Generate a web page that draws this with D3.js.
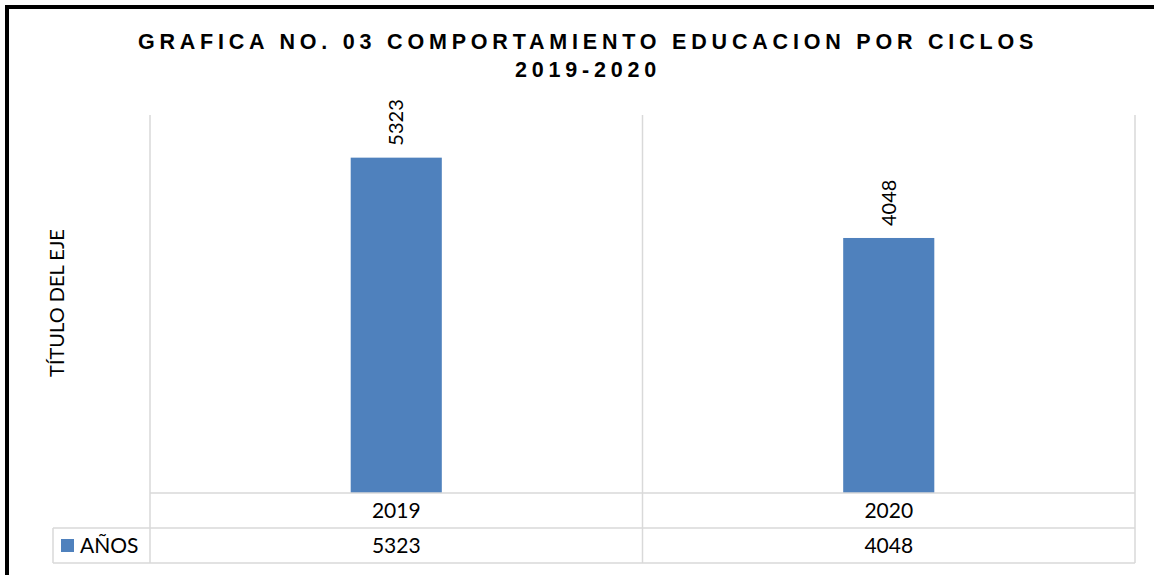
<!DOCTYPE html>
<html lang="es">
<head>
  <meta charset="UTF-8">
  <script src="https://d3js.org/d3.v7.min.js"></script>
  <title>grafica 03</title>
  <style>
    body { margin: 0; background: #fff; }
  </style>
</head>
<body>
</body>
<script>
  // datos
  let categories = ['2019', '2020']
  let values = [5323, 4048]
  let seriesName = 'AÑOS'
  let titleLines = ['GRAFICA NO. 03 COMPORTAMIENTO EDUCACION POR CICLOS', '2019-2020']
  let yTitle = 'TÍTULO DEL EJE'

  let width = 1154
  let height = 575
  let color = '#4f81bd'
  let gridColor = '#d9d9d9'
  let font = 'Lato, "Open Sans", sans-serif'

  let svg = d3.select('body')
    .append('svg')
    .attr('width', width)
    .attr('height', height)

  // borde negro (solo izquierda y arriba visibles)
  svg.append('path')
    .attr('d', 'M7,575 V7 H1154')
    .attr('fill', 'none')
    .attr('stroke', '#000')
    .attr('stroke-width', 4)

  // titulo
  svg.selectAll('text.title')
    .data(titleLines)
    .enter()
    .append('text')
    .attr('class', 'title')
    .attr('x', 588)
    .attr('y', (d, i) => 49 + i * 28)
    .attr('text-anchor', 'middle')
    .attr('font-family', 'Arial, "Liberation Sans", sans-serif')
    .attr('font-weight', 'bold')
    .attr('font-size', 21.5)
    .attr('letter-spacing', 4.8)
    .text(d => d)

  let plotLeft = 150, plotRight = 1135, plotTop = 115, plotBottom = 493

  let x = d3.scaleBand()
    .domain(categories)
    .range([plotLeft, plotRight])
    .paddingInner(0)
    .paddingOuter(0)

  let y = d3.scaleLinear()
    .domain([0, 6000])
    .range([plotBottom, plotTop])

  let barW = x.bandwidth() * 0.185

  // lineas verticales de la cuadricula (limites de categorias)
  let edges = categories.map(c => x(c)).concat([plotRight])
  svg.selectAll('line.grid')
    .data(edges)
    .enter()
    .append('line')
    .attr('x1', d => d)
    .attr('x2', d => d)
    .attr('y1', plotTop)
    .attr('y2', plotBottom)
    .attr('stroke', gridColor)
    .attr('stroke-width', 1.5)

  // barras
  svg.selectAll('rect.bar')
    .data(values)
    .enter()
    .append('rect')
    .attr('class', 'bar')
    .attr('x', (d, i) => x(categories[i]) + x.bandwidth() / 2 - barW / 2)
    .attr('y', d => y(d))
    .attr('width', barW)
    .attr('height', d => y(0) - y(d))
    .attr('fill', color)

  // etiquetas de datos rotadas
  svg.selectAll('text.label')
    .data(values)
    .enter()
    .append('text')
    .attr('class', 'label')
    .attr('transform', (d, i) => {
      let cx = x(categories[i]) + x.bandwidth() / 2
      return 'translate(' + (cx + 7) + ',' + (y(d) - 12) + ') rotate(-90)'
    })
    .attr('font-family', font)
    .attr('font-size', 20)
    .attr('fill', '#000')
    .text(d => d)

  // titulo eje y
  svg.append('text')
    .attr('transform', 'translate(64,303) rotate(-90)')
    .attr('text-anchor', 'middle')
    .attr('font-family', font)
    .attr('font-size', 20)
    .text(yTitle)

  // tabla de datos
  let rowH = 35
  let row1 = plotBottom, row2 = plotBottom + rowH, tableBottom = plotBottom + 2 * rowH
  let legendLeft = 53

  let g = svg.append('g')
    .attr('stroke', gridColor)
    .attr('stroke-width', 1.5)
  g.append('line').attr('x1', plotLeft).attr('x2', plotRight).attr('y1', row1).attr('y2', row1)
  g.append('line').attr('x1', legendLeft).attr('x2', plotRight).attr('y1', row2).attr('y2', row2)
  g.append('line').attr('x1', legendLeft).attr('x2', plotRight).attr('y1', tableBottom).attr('y2', tableBottom)
  g.append('line').attr('x1', legendLeft).attr('x2', legendLeft).attr('y1', row2).attr('y2', tableBottom)
  g.selectAll('line.v')
    .data(edges)
    .enter()
    .append('line')
    .attr('x1', d => d)
    .attr('x2', d => d)
    .attr('y1', row1)
    .attr('y2', tableBottom)

  svg.selectAll('text.cat')
    .data(categories)
    .enter()
    .append('text')
    .attr('x', d => x(d) + x.bandwidth() / 2)
    .attr('y', row1 + rowH / 2 + 7)
    .attr('text-anchor', 'middle')
    .attr('font-family', font)
    .attr('font-size', 21)
    .text(d => d)

  svg.selectAll('text.val')
    .data(values)
    .enter()
    .append('text')
    .attr('x', (d, i) => x(categories[i]) + x.bandwidth() / 2)
    .attr('y', row2 + rowH / 2 + 7)
    .attr('text-anchor', 'middle')
    .attr('font-family', font)
    .attr('font-size', 21)
    .text(d => d)

  // leyenda
  svg.append('rect')
    .attr('x', 61)
    .attr('y', row2 + 11)
    .attr('width', 13)
    .attr('height', 13)
    .attr('fill', color)
  svg.append('text')
    .attr('x', 80)
    .attr('y', row2 + rowH / 2 + 7)
    .attr('font-family', font)
    .attr('font-size', 21)
    .text(seriesName)
</script>
</html>
